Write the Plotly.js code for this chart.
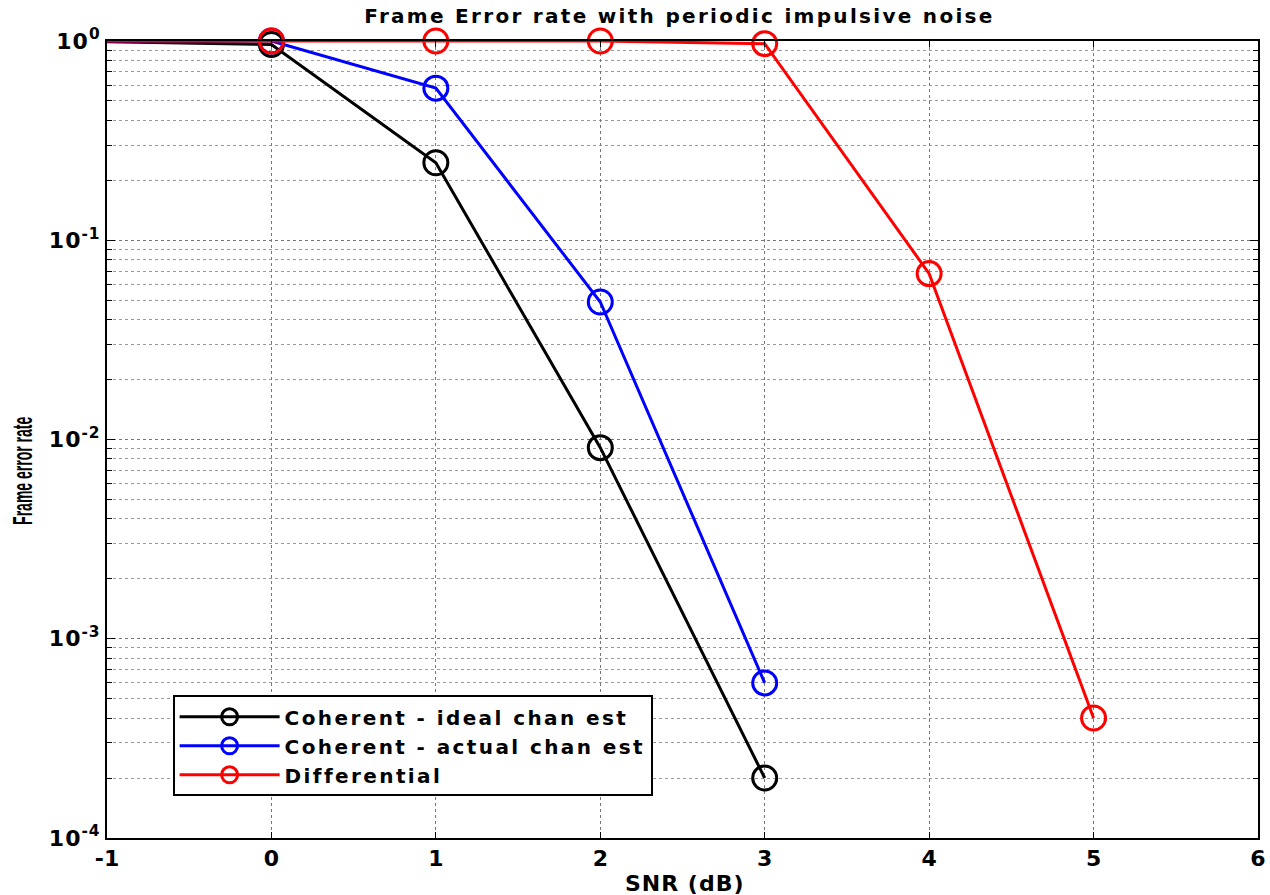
<!DOCTYPE html>
<html><head><meta charset="utf-8">
<script src="https://cdn.plot.ly/plotly-3.0.1.min.js"></script>
<style>html,body{margin:0;padding:0;background:#fff}#chart{width:1270px;height:895px}
.gtitle{letter-spacing:2.3px}
.legendtext{letter-spacing:2.4px}
.ytick text{letter-spacing:1px}
</style>
</head><body><div id="chart"></div>
<script>
const snr = [-1, 0, 1, 2, 3];
const snrDiff = [-1, 0, 1, 2, 3, 4, 5];
const ferIdeal = [0.99, 0.96, 0.245, 0.0091, 0.0002];
const ferActual = [1.0, 1.0, 0.58, 0.049, 0.0006];
const ferDiff = [1.0, 1.0, 1.0, 1.0, 0.97, 0.068, 0.0004];
const names = ['Coherent - ideal chan est', 'Coherent - actual chan est', 'Differential'];
const xTitle = 'SNR (dB)';
const yTitle = 'Frame error rate';
const yTickVals = [1e-4, 1e-3, 1e-2, 1e-1, 1];
const yTickText = ['10<sup>-4</sup>', '10<sup>-3</sup>', '10<sup>-2</sup>', '10<sup>-1</sup>', '10<sup>0</sup>'];
const yMinorVals = [];
[1e-4, 1e-3, 1e-2, 1e-1].forEach(d => { for (let k = 2; k <= 9; k++) yMinorVals.push(k * d); });
const xTickVals = [-1, 0, 1, 2, 3, 4, 5, 6];

function sizes(n){ const s = new Array(n).fill(24); s[0] = 0; return s; }
function mk(x, y, name, color){
  return {x: x, y: y, name: '<b>' + name + '</b>', type: 'scatter', mode: 'lines+markers',
    line: {color: color, width: 3},
    marker: {symbol: 'circle', size: sizes(x.length), color: 'rgba(0,0,0,0)', opacity: 1, line: {width: 3, color: color}},
    cliponaxis: false};
}
const data = [
  mk(snr, ferIdeal, names[0], '#000000'),
  mk(snr, ferActual, names[1], '#0000ff'),
  mk(snrDiff, ferDiff, names[2], '#ff0000')
];
const fam = '"DejaVu Sans", "Liberation Sans", Arial, sans-serif';
const layout = {
  width: 1270, height: 895,
  margin: {l: 107, r: 12, t: 41, b: 57},
  paper_bgcolor: '#fff', plot_bgcolor: '#fff',
  font: {family: fam, color: '#000'},
  title: {text: '<b>Frame Error rate with periodic impulsive noise</b>', font: {family: fam, size: 20, color: '#000'}, x: 0.535, xanchor: 'center', y: 0.99, yanchor: 'top'},
  xaxis: {
    range: [-1, 6], tickvals: xTickVals, ticktext: xTickVals.map(v => '<b>' + v + '</b>'),
    tickfont: {size: 22, family: fam}, ticks: 'inside', ticklen: 6, tickcolor: '#000',
    showline: true, linecolor: '#000', linewidth: 2, mirror: 'allticks',
    showgrid: true, gridcolor: '#777', griddash: 'dot', gridwidth: 1, zeroline: false
  },
  yaxis: {
    type: 'log', range: [-4, 0], tickvals: yTickVals, ticktext: yTickText.map(t => '<b>' + t + '</b>'),
    tickfont: {size: 22, family: fam}, ticks: 'inside', ticklen: 8, tickcolor: '#000',
    showline: true, linecolor: '#000', linewidth: 2, mirror: 'allticks',
    showgrid: true, gridcolor: '#777', griddash: 'dot', gridwidth: 1, zeroline: false,
    minor: {tickmode: 'array', tickvals: yMinorVals, ticks: 'inside', ticklen: 5, tickcolor: '#000', showgrid: true, gridcolor: '#999', griddash: 'dot', gridwidth: 1}
  },
  annotations: [
    {text: '<b>' + xTitle + '</b>', xref: 'paper', yref: 'paper', x: (684 - 107) / 1151, y: -(883 - 838) / 797,
     xanchor: 'center', yanchor: 'middle', showarrow: false, font: {size: 22, family: fam, color: '#000'}},
    {text: '<b>' + yTitle + '</b>', xref: 'paper', yref: 'paper', x: -(107 - 22) / 1151, y: (838 - 471) / 797,
     xanchor: 'center', yanchor: 'middle', textangle: -90, showarrow: false,
     font: {size: 28, family: '"Liberation Sans", Arial, sans-serif', color: '#000'}}
  ],
  legend: {x: 0.057, y: 0.179, xanchor: 'left', yanchor: 'top', bgcolor: '#fff', bordercolor: '#000', borderwidth: 2,
    font: {size: 20, family: fam, color: '#000'}, itemwidth: 100, tracegroupgap: 0},
  showlegend: true
};
Plotly.newPlot('chart', data, layout, {displayModeBar: false}).then(() => {
  const texts = document.querySelectorAll('.annotation-text');
  if (texts[0]) texts[0].style.letterSpacing = '1px';
  if (texts[1]) {
    texts[1].style.transformBox = 'fill-box';
    texts[1].style.transformOrigin = 'center';
    texts[1].style.transform = 'scaleX(0.5)';
  }
});
</script></body></html>
